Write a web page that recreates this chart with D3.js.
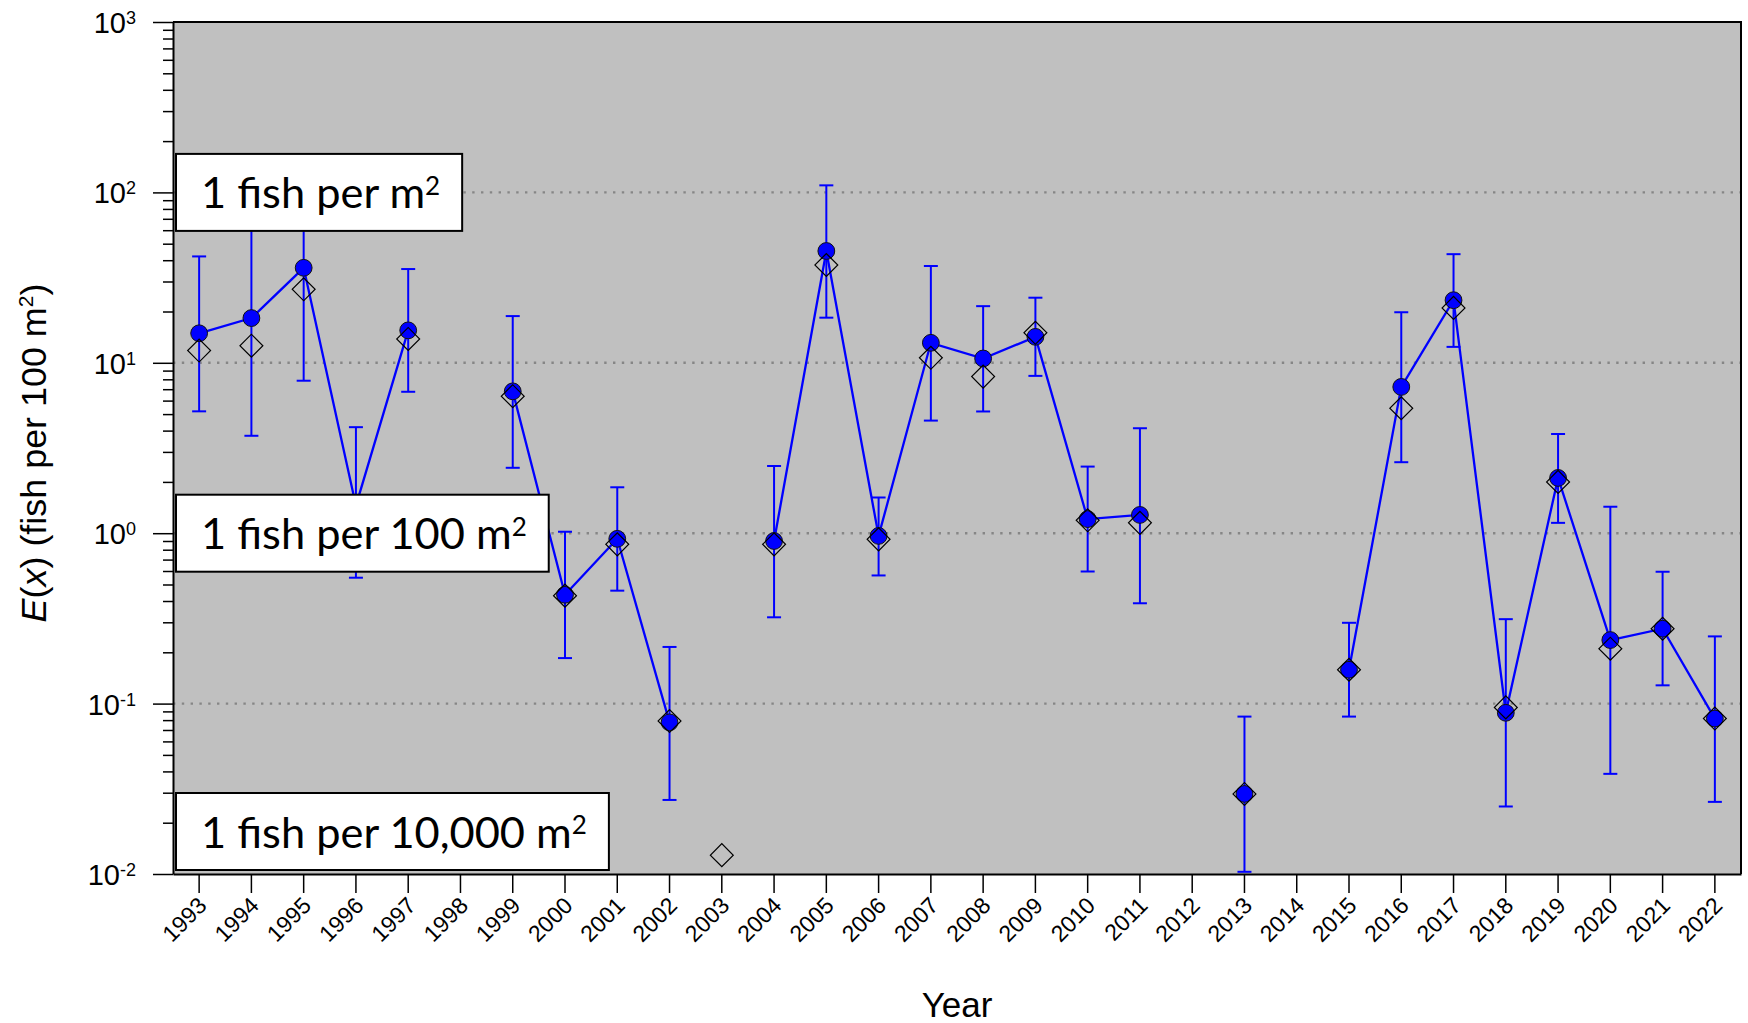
<!DOCTYPE html>
<html><head><meta charset="utf-8">
<script src="https://cdn.jsdelivr.net/npm/d3@7"></script>
<style>body{margin:0;background:#fff}svg{display:block}</style>
</head><body>
<svg id="chart" width="1748" height="1023"></svg>
<script>
// ---------- data ----------
const years = [1993,1994,1995,1996,1997,1998,1999,2000,2001,2002,2003,2004,2005,2006,2007,2008,2009,2010,2011,2012,2013,2014,2015,2016,2017,2018,2019,2020,2021,2022];
const estimate = [14.9,18.3,36.1,1.45,15.5,null,6.8,0.435,0.927,0.0776,null,0.90,45.3,0.964,13.1,10.6,14.2,1.21,1.28,null,0.0295,null,0.158,7.22,23.3,0.0883,2.11,0.236,0.275,0.0817];
const observed = [11.8,12.6,27.0,1.25,13.8,null,6.37,0.43,0.86,0.079,0.0129,0.86,37.5,0.92,10.7,8.3,15.0,1.19,1.15,null,0.0295,null,0.158,5.41,21.0,0.095,2.0,0.21,0.275,0.0817];
const upper = [42.1,95,120,4.19,35.5,null,18.8,1.02,1.86,0.215,null,2.48,110,1.62,37.0,21.5,24.1,2.46,4.13,null,0.0839,null,0.298,19.8,43.4,0.313,3.82,1.43,0.594,0.248];
const lower = [5.19,3.73,7.85,0.548,6.76,null,2.42,0.185,0.46,0.0272,null,0.321,18.4,0.565,4.58,5.18,8.38,0.596,0.388,null,0.0103,null,0.0839,2.61,12.4,0.0249,1.15,0.0387,0.128,0.0265];
const yTickExponents = [3,2,1,0,-1,-2];
const gridValues = [100,10,1,0.1];
const densityLabels = ["1 fish per m","1 fish per 100 m","1 fish per 10,000 m"];
const densityValues = [100,1,0.01];
const xTitle = "Year";

// ---------- layout ----------
const svg = d3.select("#chart");
const L = 173, R = 1741, T = 22, B = 874;
const x = d3.scaleBand().domain(years).range([L, R]);
const y = d3.scaleLog().domain([0.01, 1000]).range([B, T]);
const cx = d => x(d) + x.bandwidth()/2;
const blue = "#0000ff";
const sans = "'Liberation Sans', Arial, sans-serif";

const rows = years.map((yr,i) => ({yr, est: estimate[i], obs: observed[i], up: upper[i], lo: lower[i]}));

// background
svg.append("rect").attr("x", L).attr("y", T).attr("width", R-L).attr("height", B-T).attr("fill", "#c0c0c0");

// gridlines
svg.append("g").selectAll("line").data(gridValues).join("line")
  .attr("x1", L).attr("x2", R).attr("y1", d => y(d)).attr("y2", d => y(d))
  .attr("stroke", "#868686").attr("stroke-width", 2.4).attr("stroke-dasharray", "2.4,6.4");

// error bars
const eb = svg.append("g").attr("stroke", blue).attr("stroke-width", 2).attr("fill", "none");
const ebRows = rows.filter(d => d.up != null && d.lo != null);
eb.selectAll("line.v").data(ebRows).join("line").attr("class","v")
  .attr("x1", d => cx(d.yr)).attr("x2", d => cx(d.yr)).attr("y1", d => y(d.up)).attr("y2", d => y(d.lo));
eb.selectAll("line.cu").data(ebRows).join("line").attr("class","cu")
  .attr("x1", d => cx(d.yr)-7).attr("x2", d => cx(d.yr)+7).attr("y1", d => y(d.up)).attr("y2", d => y(d.up));
eb.selectAll("line.cl").data(ebRows).join("line").attr("class","cl")
  .attr("x1", d => cx(d.yr)-7).attr("x2", d => cx(d.yr)+7).attr("y1", d => y(d.lo)).attr("y2", d => y(d.lo));

// connecting line
const line = d3.line().defined(d => d.est != null).x(d => cx(d.yr)).y(d => y(d.est));
svg.append("path").datum(rows).attr("d", line).attr("fill", "none").attr("stroke", blue).attr("stroke-width", 2.3);

// circles
svg.append("g").selectAll("circle").data(rows.filter(d => d.est != null)).join("circle")
  .attr("cx", d => cx(d.yr)).attr("cy", d => y(d.est)).attr("r", 8.4)
  .attr("fill", blue).attr("stroke", "#111").attr("stroke-width", 1);

// diamonds
const diamond = d3.symbol().type(d3.symbolSquare).size(262);
svg.append("g").selectAll("path").data(rows.filter(d => d.obs != null)).join("path")
  .attr("d", diamond)
  .attr("transform", d => `translate(${cx(d.yr)},${y(d.obs)}) rotate(45)`)
  .attr("fill", "none").attr("stroke", "#000").attr("stroke-width", 1.2);

// density annotation boxes
const boxFont = "Lato, 'Open Sans', sans-serif";
const probe = svg.append("text").attr("font-family", boxFont).attr("font-size", 46).text(densityLabels[1]);
probe.append("tspan").attr("font-size", 28).attr("dy", -14).text("2");
const pw = probe.node().getBBox().width;
probe.remove();
const fs = 46 * 326 / pw;
const boxes = svg.append("g");
densityLabels.forEach((lab, i) => {
  const bh = 77;
  const top = Math.min(y(densityValues[i]) - bh/2, B - 4 - bh);
  const g = boxes.append("g");
  const rect = g.append("rect").attr("x", 176).attr("y", top).attr("height", bh)
    .attr("fill", "#fff").attr("stroke", "#000").attr("stroke-width", 2);
  const t = g.append("text").attr("x", 201).attr("y", top + 54.5)
    .attr("font-family", boxFont).attr("font-size", fs).attr("fill", "#000").text(lab);
  t.append("tspan").attr("font-size", fs*0.6).attr("dy", -fs*0.3).text("2");
  const w = t.node().getBBox().width;
  rect.attr("width", w + 27 + 20);
});

// y axis
const minor = [];
for (let e = -2; e < 3; e++) for (let m = 1; m < 10; m++) minor.push(m * Math.pow(10, e));
minor.push(1000);
const yAxis = svg.append("g").attr("transform", `translate(${L},0)`)
  .call(d3.axisLeft(y).tickValues(minor).tickSize(10).tickSizeOuter(0).tickFormat(""));
yAxis.select(".domain").attr("stroke", "#000").attr("stroke-width", 2);
yAxis.selectAll(".tick line").attr("stroke", "#000").attr("stroke-width", 1.5)
  .attr("x2", d => Math.abs(Math.log10(d) - Math.round(Math.log10(d))) < 1e-9 ? -20 : -10);
// y tick labels
const yl = svg.append("g").attr("font-family", sans).attr("fill", "#000");
yTickExponents.forEach(e => {
  const t = yl.append("text").attr("x", 136).attr("y", y(Math.pow(10, e)) + 11)
    .attr("text-anchor", "end").attr("font-size", 29);
  t.append("tspan").text("10");
  t.append("tspan").attr("font-size", 18).attr("dy", -9).text(String(e));
});

// border (top, right)
svg.append("path").attr("d", `M${L},${T}H${R}V${B}`).attr("fill","none").attr("stroke","#000").attr("stroke-width",2);

// x axis
const xAxis = svg.append("g").attr("transform", `translate(0,${B})`)
  .call(d3.axisBottom(x).tickSize(19).tickSizeOuter(0));
xAxis.select(".domain").attr("stroke", "#000").attr("stroke-width", 2);
xAxis.selectAll(".tick line").attr("stroke", "#000").attr("stroke-width", 1.5);
xAxis.selectAll(".tick text")
  .attr("font-family", sans).attr("font-size", 23).attr("fill", "#000")
  .attr("text-anchor", "end").attr("y", 0).attr("dy", 0)
  .attr("transform", "translate(9,33) rotate(-45)");

// axis titles
svg.append("text").attr("x", 957).attr("y", 1017).attr("text-anchor", "middle")
  .attr("font-family", sans).attr("font-size", 35).attr("fill", "#000").text(xTitle);

const yt = svg.append("text").attr("transform", "translate(46,453) rotate(-90)")
  .attr("text-anchor", "middle").attr("font-family", sans).attr("font-size", 33).attr("fill", "#000");
yt.append("tspan").attr("font-style", "italic").text("E");
yt.append("tspan").text("(");
yt.append("tspan").attr("font-style", "italic").text("x");
yt.append("tspan").text(") (fish per 100 m");
yt.append("tspan").attr("font-size", 21).attr("dy", -13).text("2");
yt.append("tspan").attr("dy", 13).text(")");
const ytw = yt.node().getComputedTextLength();
yt.attr("font-size", 33 * 340 / ytw);
</script>
</body></html>
